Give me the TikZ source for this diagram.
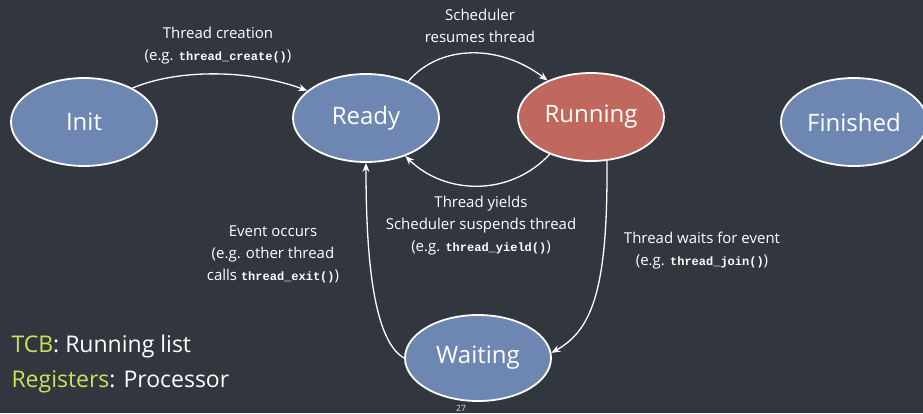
\documentclass[tikz,border=0pt]{standalone}
\usepackage{fontspec}
\setmainfont{Open Sans}
\setmonofont{Liberation Mono}
\usetikzlibrary{arrows.meta,shapes.geometric}

\definecolor{board}{RGB}{50,54,62}
\definecolor{stateblue}{RGB}{110,134,178}
\definecolor{statered}{RGB}{192,103,94}
\definecolor{keylime}{RGB}{200,228,92}

% bold monospace for function names
\newcommand{\codefn}[1]{{\ttfamily\bfseries\fontsize{12}{12}\selectfont #1}}

\begin{document}
\begin{tikzpicture}[x=1pt,y=-1pt,
  state/.style={ellipse, draw=white, line width=1.8pt, minimum width=146pt,
    minimum height=88pt, inner sep=0pt, text=white,
    font=\fontsize{24}{28}\selectfont},
  flow/.style={draw=white, line width=1.3pt, -{Stealth[length=9pt,width=7pt]}},
  note/.style={text=white, align=center, font=\fontsize{15}{22}\selectfont},
  legend/.style={text=white, anchor=west, font=\fontsize{23}{28}\selectfont},
]
% chalkboard background
\fill[board] (0,0) rectangle (923,413);
\useasboundingbox (0,0) rectangle (923,413);

% thread states
\node[state, fill=stateblue] (init)     at (84,122)  {Init};
\node[state, fill=stateblue] (ready)    at (366,118) {Ready};
\node[state, fill=statered]  (running)  at (591,117) {Running};
\node[state, fill=stateblue] (finished) at (854,122) {Finished};
\node[state, fill=stateblue, minimum height=86pt] (waiting) at (478,358) {Waiting};

% transitions
\draw[flow] (init.35) .. controls (175,70) and (245,68) .. (ready.155);
\draw[flow] (ready.41) .. controls (440,44) and (500,44) .. (running.140);
\draw[flow] (running.222) .. controls (510,197) and (445,195) .. (ready.316);
\draw[flow] (running.290) .. controls (608,290) and (592,330) .. (waiting.4);
\draw[flow] (waiting.180) .. controls (372,340) and (366,250) .. (ready.270);

% transition labels
\node[note] (lcreate) at (218,46) {Thread creation\\(e.g. \codefn{thread\_create()})};
\node[note] (lresume) at (480,26) {Scheduler\\resumes thread};
\node[note] (lyield)  at (481,226) {Thread yields\\Scheduler suspends thread\\(e.g. \codefn{thread\_yield()})};
\node[note] (levent)  at (273,254) {Event occurs\\(e.g. other thread\\calls \codefn{thread\_exit()})};
\node[note] (lwait)   at (702,251) {Thread waits for event\\(e.g. \codefn{thread\_join()})};

% context information
\node[legend] (tcb)  at (8,347) {\textcolor{keylime}{TCB}: Running list};
\node[legend] (regs) at (8,382) {\textcolor{keylime}{Registers}: Processor};

% slide number
\node[text=white!85!board, font=\fontsize{8.5}{8.5}\selectfont, inner sep=1pt] (pg) at (461,408) {27};
\end{tikzpicture}
\end{document}
